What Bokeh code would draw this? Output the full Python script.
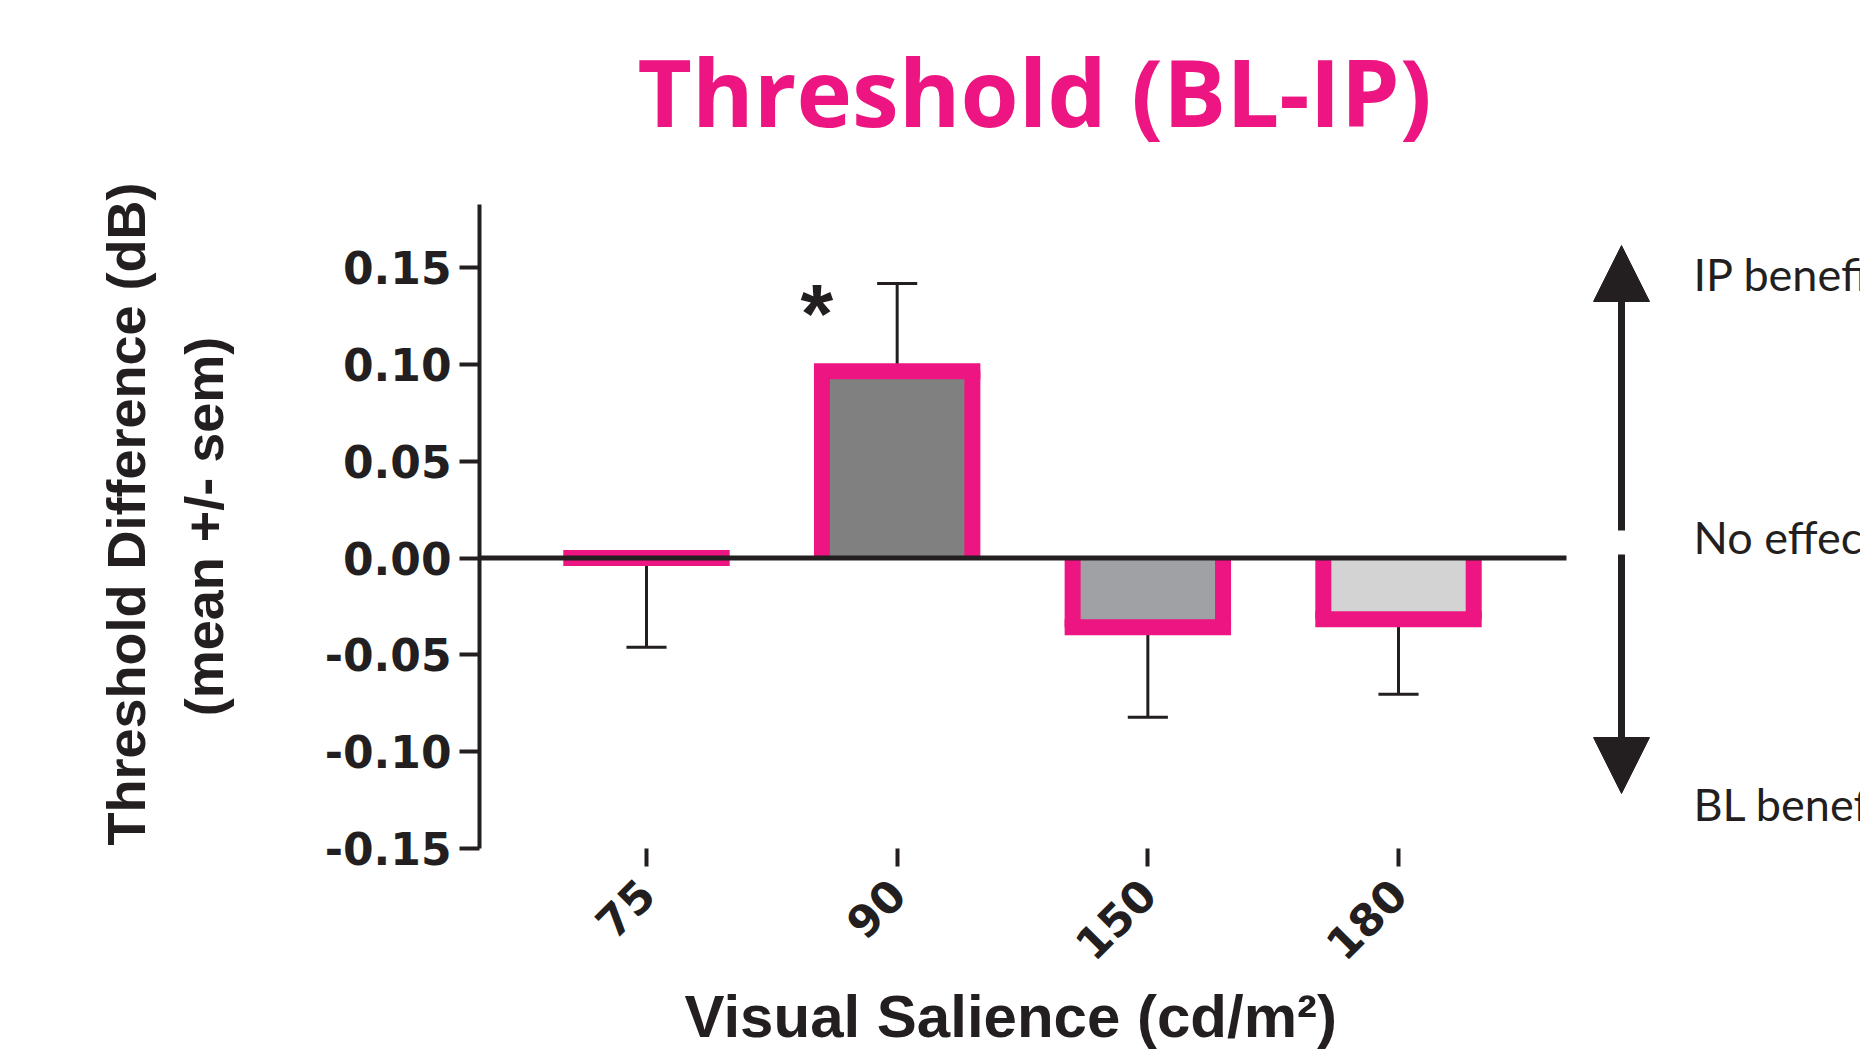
import math
from bokeh.plotting import figure
from bokeh.models import (FixedTicker, NumeralTickFormatter, Label, Arrow,
                          NormalHead, ColumnDataSource, Range1d, Title)
from bokeh.embed import file_html
from bokeh.resources import INLINE

# ---------------- data ----------------
categories = ["75", "90", "150", "180"]
means = [0.0, 0.0965, -0.0357, -0.0316]
sems = [0.046, 0.0453, 0.0465, 0.0388]
fill_colors = ["#FFFFFF", "#808080", "#A0A1A4", "#D3D3D3"]
marks = ["", "*", "", ""]
y_ticks = [-0.15, -0.10, -0.05, 0.0, 0.05, 0.10, 0.15]

title_text = "Threshold (BL-IP)"
y_title = "Threshold Difference (dB)"
y_subtitle = "(mean +/- sem)"
x_title = "Visual Salience (cd/m²)"
side_labels = ["IP benefit", "No effect", "BL benefit"]

# ---------------- styles / layout ----------------
PINK = "#EC1581"
INK = "#231F20"
W, H = 1860, 1052
FL, FR, FT, FB = 479, 1860, 204, 848
X0, X1 = 0.3338, 5.843
Y0, Y1 = -0.15, 0.1826
BAR_W = 0.6
BORDER = 16
CAP = 0.08
TICK_FONT = "DejaVu Sans"
TITLE_FONT = "Liberation Sans"
SIDE_FONT = "Lato"


def dx(px):
    return X0 + (px - FL) / (FR - FL) * (X1 - X0)


def dy(py):
    return Y0 + (FB - py) / (FB - FT) * (Y1 - Y0)


pos = list(range(1, len(categories) + 1))

p = figure(width=W, height=H, x_range=Range1d(X0, X1), y_range=Range1d(Y0, Y1),
           output_backend="svg", toolbar_location=None, title_location=None,
           min_border_left=FL, min_border_right=0, min_border_top=FT,
           min_border_bottom=H - FB)
p.outline_line_color = None
p.background_fill_color = "white"
p.border_fill_color = "white"
p.xgrid.visible = False
p.ygrid.visible = False

# main title: a blank spacer next to the frame, then the title itself
p.add_layout(Title(text=" ", text_font_size="1px", standoff=42), "above")
p.add_layout(Title(text=title_text, align="left", offset=158, standoff=10,
                   text_font="Open Sans", text_font_style="bold",
                   text_font_size="94px", text_color=PINK), "above")

# error bars (behind bars)
direction = [1 if m > 0 else -1 for m in means]
ends = [m + d * s for m, d, s in zip(means, direction, sems)]
err = ColumnDataSource(dict(x=pos, m=means, e=ends,
                            cl=[x - CAP for x in pos], cr=[x + CAP for x in pos]))
p.segment(x0="x", y0="m", x1="x", y1="e", source=err, line_color=INK, line_width=3)
p.segment(x0="cl", y0="e", x1="cr", y1="e", source=err, line_color=INK, line_width=3)

# bars: fill, then pink outline on the sides and the value edge
edges = ColumnDataSource(dict(x=pos, top=means, fill=fill_colors,
                              l=[x - BAR_W / 2 for x in pos],
                              r=[x + BAR_W / 2 for x in pos],
                              zero=[0.0] * len(pos)))
p.vbar(x="x", top="top", bottom=0, width=BAR_W, fill_color="fill",
       line_color=None, source=edges)
p.segment(x0="l", y0="zero", x1="l", y1="top", source=edges, line_color=PINK,
          line_width=BORDER, line_cap="butt")
p.segment(x0="r", y0="zero", x1="r", y1="top", source=edges, line_color=PINK,
          line_width=BORDER, line_cap="butt")
p.segment(x0="l", y0="top", x1="r", y1="top", source=edges, line_color=PINK,
          line_width=BORDER, line_cap="square")

# zero line
p.segment(x0=[X0], y0=[0], x1=[dx(1566)], y1=[0], line_color=INK, line_width=5)

# significance marks
for x, m, s, mk in zip(pos, means, sems, marks):
    if mk:
        p.add_layout(Label(x=x - 0.32, y=dy(313), text=mk, text_align="center",
                           text_baseline="alphabetic", text_font=TITLE_FONT,
                           text_font_style="bold", text_font_size="84px",
                           text_color=INK))

# axes
yax = p.yaxis[0]
yax.ticker = FixedTicker(ticks=y_ticks)
yax.formatter = NumeralTickFormatter(format="0.00")
yax.axis_line_width = 4
yax.axis_line_color = INK
yax.major_tick_line_width = 4
yax.major_tick_line_color = INK
yax.major_tick_in = 0
yax.major_tick_out = 20
yax.minor_tick_line_color = None
yax.major_label_standoff = 8
yax.major_label_text_font = TICK_FONT
yax.major_label_text_font_style = "bold"
yax.major_label_text_font_size = "44px"
yax.major_label_text_color = INK
yax.axis_label = y_subtitle
yax.axis_label_standoff = 88
yax.axis_label_text_font = TITLE_FONT
yax.axis_label_text_font_style = "bold"
yax.axis_label_text_font_size = "54px"
yax.axis_label_text_color = INK

xax = p.xaxis[0]
xax.ticker = FixedTicker(ticks=pos)
xax.major_label_overrides = {x: c for x, c in zip(pos, categories)}
xax.axis_line_color = None
xax.major_tick_line_width = 4
xax.major_tick_line_color = INK
xax.major_tick_in = 0
xax.major_tick_out = 18
xax.minor_tick_line_color = None
xax.major_label_orientation = math.pi / 4
xax.major_label_standoff = 20
xax.major_label_text_font = TICK_FONT
xax.major_label_text_font_style = "bold"
xax.major_label_text_font_size = "44px"
xax.major_label_text_color = INK

p.add_layout(Title(text=y_title, align="left", offset=3, standoff=29,
                   text_font=TITLE_FONT, text_font_style="bold",
                   text_font_size="54px", text_color=INK), "left")
p.add_layout(Title(text=x_title, align="left", offset=205, standoff=6,
                   text_font=TITLE_FONT, text_font_style="bold",
                   text_font_size="60px", text_color=INK), "below")

# effect-direction arrows and labels
ax_x = dx(1621)
p.add_layout(Arrow(x_start=ax_x, y_start=dy(530), x_end=ax_x, y_end=dy(245),
                   line_width=7, line_color=INK,
                   end=NormalHead(size=56, fill_color=INK, line_color=INK, line_width=1)))
p.add_layout(Arrow(x_start=ax_x, y_start=dy(554), x_end=ax_x, y_end=dy(793),
                   line_width=7, line_color=INK,
                   end=NormalHead(size=56, fill_color=INK, line_color=INK, line_width=1)))
for txt, base in zip(side_labels, [292, 555, 822]):
    p.add_layout(Label(x=dx(1693), y=dy(base - 19), text=txt, text_align="left",
                       text_baseline="alphabetic", text_font=SIDE_FONT,
                       text_font_size="45px", text_color=INK))

open("out.html", "w").write(file_html(p, INLINE))
